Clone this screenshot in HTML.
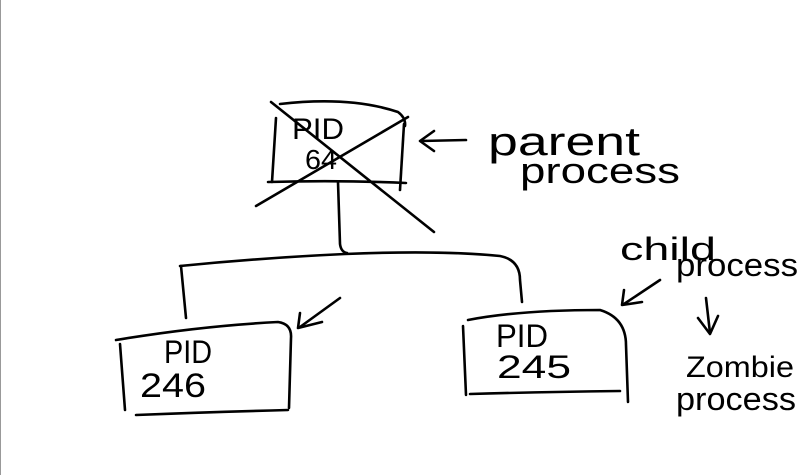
<!DOCTYPE html>
<html><head><style>
html,body{margin:0;padding:0;background:#fff;}
svg{display:block}
text{font-family:"Liberation Sans",sans-serif;fill:#000;}
</style></head><body>
<svg width="810" height="475" viewBox="0 0 810 475" xmlns="http://www.w3.org/2000/svg">
<rect x="0" y="0" width="810" height="475" fill="#fff"/>
<line x1="0.5" y1="0" x2="0.5" y2="475" stroke="#999" stroke-width="1"/>
<g fill="none" stroke="#000" stroke-width="2.6" stroke-linecap="round" stroke-linejoin="round">
<path d="M280 104 Q350 96 398 112 Q406 118 405 126"/>
<path d="M276 118 L272 182"/>
<path d="M404 124 L400 190"/>
<path d="M268 182 Q340 180 406 183"/>
<path d="M271 102 L434 232"/>
<path d="M256 206 L408 117"/>
<path d="M466 140 L421 141"/>
<path d="M434 131 L420 141 L434 151"/>
<path d="M338 182 L340 244 Q341 252 347 253"/>
<path d="M180 266 Q260 258 345 254 Q440 250 500 256 Q520 260 520 280 L522 302"/>
<path d="M181 266 L186 318"/>
<path d="M116 340 Q200 326 278 322 Q292 324 291 338 L289 408"/>
<path d="M120 344 L125 410"/>
<path d="M136 415 Q210 412 288 410"/>
<path d="M340 298 L300 327"/>
<path d="M300 313 L298 328 L322 322"/>
<path d="M468 320 Q520 310 600 310 Q626 318 626 345 L628 402"/>
<path d="M463 326 L466 395"/>
<path d="M470 394 Q540 392 620 391"/>
<path d="M660 280 L624 304"/>
<path d="M624 290 L622 305 L642 302"/>
<path d="M706 298 L710 333"/>
<path d="M698 318 L710 334 L718 316"/>
</g>
<g>
<text x="292" y="139" font-size="30" textLength="52" lengthAdjust="spacingAndGlyphs">PID</text>
<text x="305" y="169" font-size="28" textLength="32" lengthAdjust="spacingAndGlyphs">64</text>
<text x="488" y="155" font-size="40" textLength="152" lengthAdjust="spacingAndGlyphs">parent</text>
<text x="520" y="183" font-size="36" textLength="160" lengthAdjust="spacingAndGlyphs">process</text>
<text x="164" y="363" font-size="32" textLength="48" lengthAdjust="spacingAndGlyphs">PID</text>
<text x="140" y="397" font-size="34" textLength="66" lengthAdjust="spacingAndGlyphs">246</text>
<text x="496" y="347" font-size="32" textLength="52" lengthAdjust="spacingAndGlyphs">PID</text>
<text x="497" y="378" font-size="32" textLength="74" lengthAdjust="spacingAndGlyphs">245</text>
<text x="620" y="260" font-size="32" textLength="96" lengthAdjust="spacingAndGlyphs">child</text>
<text x="676" y="276" font-size="32" textLength="122" lengthAdjust="spacingAndGlyphs">process</text>
<text x="686" y="377" font-size="30" textLength="108" lengthAdjust="spacingAndGlyphs">Zombie</text>
<text x="676" y="410" font-size="32" textLength="120" lengthAdjust="spacingAndGlyphs">process</text>
</g>
</svg>
</body></html>
